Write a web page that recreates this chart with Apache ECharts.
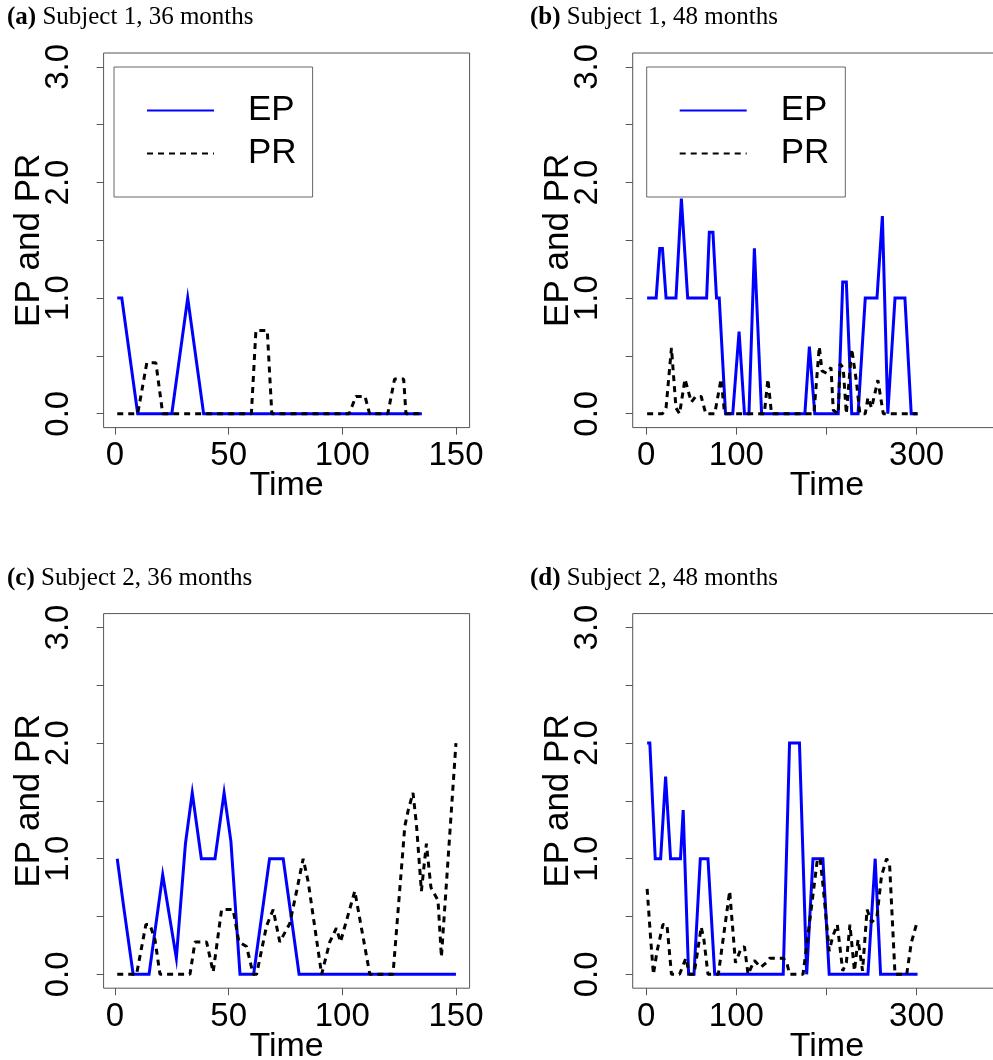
<!DOCTYPE html>
<html><head><meta charset="utf-8">
<script src="https://cdn.jsdelivr.net/npm/echarts@6/dist/echarts.min.js"></script>
<style>html,body{margin:0;padding:0;background:#fff}#c{width:993px;height:1060px}</style>
</head><body><div id="c"></div>
<script>
// ---- Panel titles ----
const panelTags = ['(a)', '(b)', '(c)', '(d)'];
const panelTitles = ['Subject 1, 36 months', 'Subject 1, 48 months', 'Subject 2, 36 months', 'Subject 2, 48 months'];
const seriesNames = ['EP', 'PR'];

// ---- Tick values ----
const yTicks = [0, 0.5, 1, 1.5, 2, 2.5, 3];
const yLabels = [0, 1, 2, 3];
const xTicks36 = [0, 50, 100, 150];
const xLabels36 = [0, 50, 100, 150];
const xTicks48 = [0, 100, 200, 300, 400];
const xLabels48 = [0, 100, 300];

// ---- (a) Subject 1, 36 months ----
const aEPtime = [1, 3, 10, 25, 32, 39, 135];
const aEPval  = [1, 1, 0, 0, 1, 0, 0];
const aPRtime = [1, 10, 14, 18, 21, 60, 62, 67, 69, 103, 106, 110, 112, 120, 123, 127, 128, 135];
const aPRval  = [0, 0, 0.44, 0.44, 0, 0, 0.72, 0.72, 0, 0, 0.15, 0.15, 0, 0, 0.3, 0.3, 0, 0];

// ---- (b) Subject 1, 48 months ----
const bEPtime = [1, 11, 15, 18, 22, 33, 39, 46, 67, 70, 74, 78, 81, 88, 96, 103, 109, 114, 120, 128, 176, 181, 187, 213, 218, 222, 228, 235, 243, 256, 262, 268, 276, 287, 294, 301];
const bEPval  = [1, 1, 1.43, 1.43, 1, 1, 1.86, 1, 1, 1.57, 1.57, 1, 1, 0, 0, 0.71, 0, 0, 1.43, 0, 0, 0.58, 0, 0, 1.14, 1.14, 0, 0, 1, 1, 1.71, 0, 1, 1, 0, 0];
const bPRtime = [1, 18, 22, 28, 33, 37, 43, 50, 55, 61, 66, 76, 83, 87, 131, 135, 139, 186, 189, 192, 195, 200, 205, 207.5, 213, 215, 218.5, 222, 228, 233, 237, 243, 246, 250, 257, 263, 301];
const bPRval  = [0, 0, 0.05, 0.57, 0.05, 0, 0.3, 0.1, 0.15, 0.15, 0, 0, 0.3, 0, 0, 0.3, 0, 0, 0.29, 0.58, 0.37, 0.35, 0.4, 0.03, 0, 0.43, 0.4, 0, 0.56, 0.29, 0, 0, 0.14, 0.05, 0.29, 0, 0];

// ---- (c) Subject 2, 36 months ----
const cEPtime = [1, 4, 8, 15, 21, 27, 31, 34, 38, 44, 48, 51, 55, 61, 68, 74, 81, 150];
const cEPval  = [1, 0.56, 0, 0, 0.86, 0.14, 1.13, 1.57, 1, 1, 1.57, 1.15, 0, 0, 1, 1, 0, 0];
const cPRtime = [1, 9.5, 13.6, 15.4, 17.6, 19.8, 33, 35.2, 40.3, 43.2, 46.9, 52, 54.5, 57.9, 60.8, 62.3, 66.7, 69.6, 72.5, 76.9, 79.9, 82.8, 85, 90.9, 94.5, 97.4, 99.2, 105.5, 112.1, 122.3, 127.5, 129, 131.1, 132.6, 134.8, 137, 139, 142.1, 143.6, 150];
const cPRval  = [0, 0, 0.43, 0.43, 0.3, 0, 0, 0.28, 0.28, 0.02, 0.56, 0.56, 0.28, 0.24, 0, 0, 0.42, 0.56, 0.28, 0.44, 0.72, 1.0, 0.8, 0, 0.28, 0.4, 0.28, 0.72, 0, 0, 1.28, 1.42, 1.57, 1.3, 0.72, 1.13, 0.75, 0.64, 0.15, 2.0];

// ---- (d) Subject 2, 48 months ----
const dEPtime = [1, 4, 10, 16, 21.5, 27, 38, 41, 47, 53, 60, 68.5, 76, 152, 159, 170, 178, 185, 196, 203, 246, 254, 260, 301];
const dEPval  = [2, 2, 1, 1, 1.71, 1, 1, 1.42, 0, 0, 1, 1, 0, 0, 2, 2, 0, 1, 1, 0, 0, 1, 0, 0];
const dPRtime = [1, 5, 8, 12, 18.5, 23, 28, 37, 44, 48, 53, 57, 61, 64, 68.5, 80, 92.6, 99, 105, 109, 113, 120, 127, 133, 137, 146, 152, 156, 159, 174, 190, 193, 197, 203, 207, 212, 218, 222, 226, 231, 235, 240, 245, 250, 256, 261, 266.7, 270, 276, 289, 294, 300];
const dPRval  = [0.74, 0.3, 0, 0.2, 0.43, 0.43, 0, 0, 0.14, 0, 0, 0.2, 0.41, 0.3, 0, 0, 0.72, 0.1, 0.22, 0.24, 0, 0.12, 0.06, 0.1, 0.14, 0.14, 0.14, 0.1, 0, 0, 1.0, 1.0, 0.7, 0.2, 0.33, 0.43, 0.03, 0.1, 0.43, 0.03, 0.3, 0.03, 0.56, 0.45, 0.5, 0.85, 1.0, 0.95, 0, 0, 0.27, 0.44];

const zip = (t, v) => t.map((x, i) => [x, v[i]]);
const panelData = [
  [zip(aEPtime, aEPval), zip(aPRtime, aPRval)],
  [zip(bEPtime, bEPval), zip(bPRtime, bPRval)],
  [zip(cEPtime, cEPval), zip(cPRtime, cPRval)],
  [zip(dEPtime, dEPval), zip(dPRtime, dPRval)]
];

// ---- layout ----
const SANS = 'Liberation Sans, Arial, sans-serif';
const SERIF = 'Liberation Serif, Times New Roman, serif';
const gridPos = [
  {left: 103.6, top: 53, width: 366, height: 374.6},
  {left: 632.7, top: 53, width: 388.5, height: 374.6},
  {left: 103.6, top: 613.6, width: 366, height: 374.6},
  {left: 632.7, top: 613.6, width: 388.5, height: 374.6}
];
const xRange = [[-5, 156], [-15, 416], [-5, 156], [-15, 416]];
const titlePos = [[7, 5], [530, 5], [7, 566], [530, 566]];

const grids = [], xAxes = [], yAxes = [], series = [], titles = [];
for (let i = 0; i < 4; i++) {
  const is36 = (i % 2 === 0);
  grids.push(Object.assign({show: true, borderColor: '#555', borderWidth: 1, backgroundColor: 'transparent', containLabel: false, outerBoundsMode: 'none'}, gridPos[i]));
  xAxes.push({
    gridIndex: i, type: 'value', min: xRange[i][0], max: xRange[i][1],
    axisLine: {show: false, onZero: false}, splitLine: {show: false},
    axisTick: {show: true, customValues: is36 ? xTicks36 : xTicks48, length: 7, lineStyle: {color: '#555', width: 1}},
    axisLabel: {customValues: is36 ? xLabels36 : xLabels48, margin: 12, fontSize: 33, color: '#000', fontFamily: SANS},
    name: 'Time', nameLocation: 'middle', nameGap: 41, nameMoveOverlap: false,
    nameTextStyle: {fontSize: 34, color: '#000', fontFamily: SANS}
  });
  yAxes.push({
    gridIndex: i, type: 'value', min: -0.12, max: 3.12,
    axisLine: {show: false, onZero: false}, splitLine: {show: false},
    axisTick: {show: true, customValues: yTicks, length: 7, lineStyle: {color: '#555', width: 1}},
    axisLabel: {customValues: yLabels, formatter: v => Number(v).toFixed(1), rotate: 90, margin: 28, fontSize: 33, color: '#000', fontFamily: SANS},
    name: 'EP and PR', nameLocation: 'middle', nameRotate: 90, nameGap: 57, nameMoveOverlap: false,
    nameTextStyle: {fontSize: 35, color: '#000', fontFamily: SANS}
  });
  series.push({
    name: seriesNames[0], type: 'line', xAxisIndex: i, yAxisIndex: i, data: panelData[i][0],
    symbol: 'none', showSymbol: false, silent: true, animation: false,
    lineStyle: {color: '#0000FF', width: 3, cap: 'butt', join: 'miter'}, itemStyle: {color: '#0000FF'}
  });
  series.push({
    name: seriesNames[1], type: 'line', xAxisIndex: i, yAxisIndex: i, data: panelData[i][1],
    symbol: 'none', showSymbol: false, silent: true, animation: false,
    lineStyle: {color: '#000', width: 3, type: [6, 5], cap: 'butt'}, itemStyle: {color: '#000'}
  });
  titles.push({
    left: titlePos[i][0], top: titlePos[i][1], padding: 0,
    text: '{b|' + panelTags[i] + '} ' + panelTitles[i],
    textStyle: {fontFamily: SERIF, fontSize: 25, fontWeight: 'normal', color: '#000',
      rich: {b: {fontFamily: SERIF, fontSize: 25, fontWeight: 'bold', color: '#000'}}}
  });
}

const legendBase = {
  orient: 'vertical', data: seriesNames, selectedMode: false,
  borderColor: '#666', borderWidth: 1, borderRadius: 0,
  padding: [26, 16, 26, 32], itemWidth: 67, itemHeight: 14, itemGap: 8,
  itemStyle: {opacity: 0},
  textStyle: {fontSize: 35, color: '#000', fontFamily: SANS, padding: [0, 0, 0, 29], lineHeight: 35}
};
const legends = [
  Object.assign({left: 114, top: 67}, legendBase),
  Object.assign({left: 646.7, top: 67}, legendBase)
];

const chart = echarts.init(document.getElementById('c'), null, {renderer: 'canvas'});
chart.setOption({
  animation: false,
  backgroundColor: '#fff',
  title: titles,
  legend: legends,
  grid: grids,
  xAxis: xAxes,
  yAxis: yAxes,
  series: series
});
</script></body></html>
